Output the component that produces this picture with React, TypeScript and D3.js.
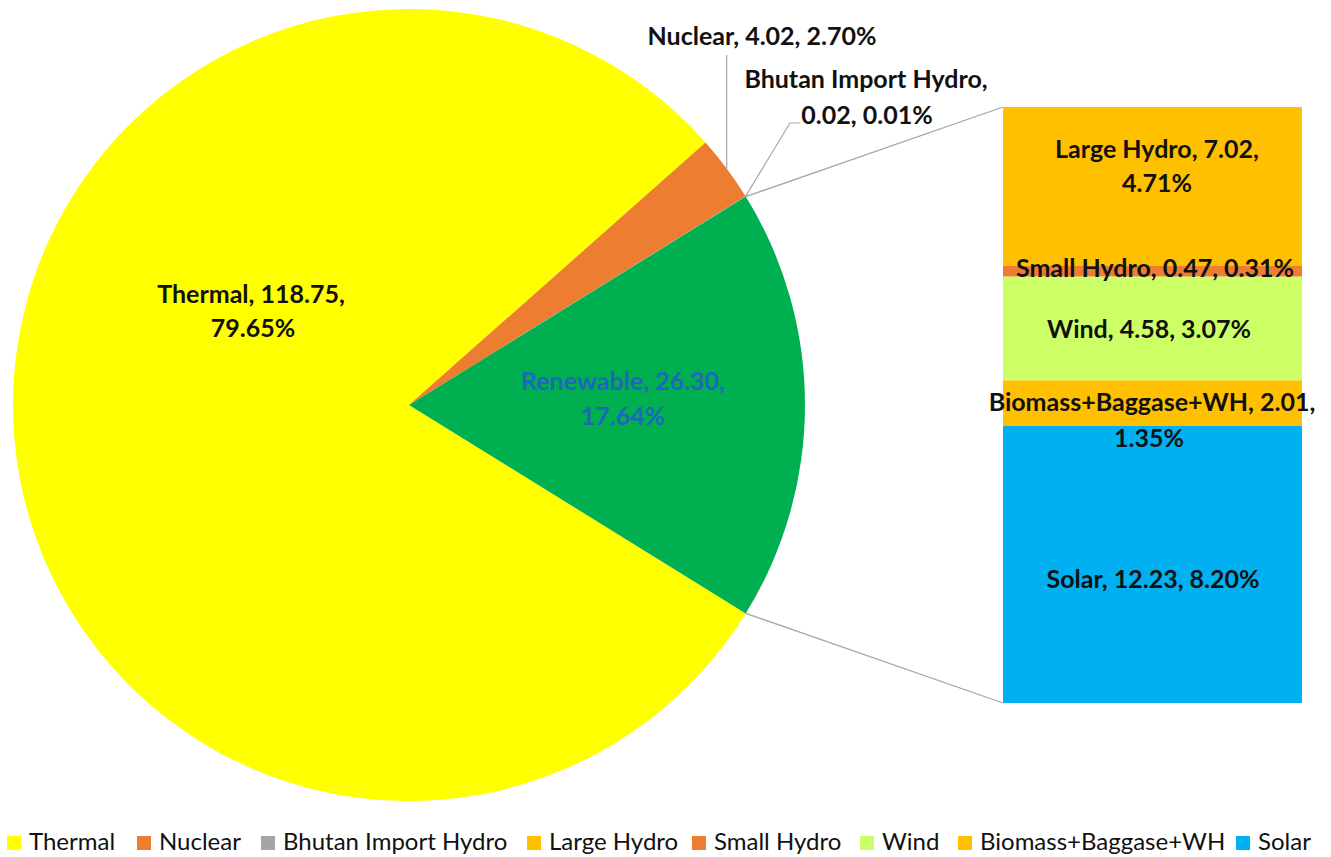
import * as d3 from 'd3';
import React from 'react';

// main pie values (BU)
const pieNames = ['Thermal', 'Nuclear', 'Bhutan Import Hydro', 'Renewable'];
const pieValues = [118.75, 4.02, 0.02, 26.30];
const piePercents = ['79.65%', '2.70%', '0.01%', '17.64%'];

// breakdown of renewable, top to bottom in the bar
const barNames = ['Large Hydro', 'Small Hydro', 'Wind', 'Biomass+Baggase+WH', 'Solar'];
const barValues = [7.02, 0.47, 4.58, 2.01, 12.23];
const barPercents = ['4.71%', '0.31%', '3.07%', '1.35%', '8.20%'];

const legendNames = ['Thermal', 'Nuclear', 'Bhutan Import Hydro', 'Large Hydro', 'Small Hydro', 'Wind', 'Biomass+Baggase+WH', 'Solar'];

const colors: Record<string, string> = {
    'Thermal': '#FFFF00',
    'Nuclear': '#ED7D31',
    'Bhutan Import Hydro': '#A5A5A5',
    'Renewable': '#00B050',
    'Large Hydro': '#FFC000',
    'Small Hydro': '#ED7D31',
    'Wind': '#CCFF66',
    'Biomass+Baggase+WH': '#FFC000',
    'Solar': '#00B0F0',
};

const W = 1331;
const H = 857;
const FONT = 'Lato, "Noto Sans", sans-serif';
const cx = 409;
const cy = 405;
const R = 396;
const bar = { x0: 1003, x1: 1302, y0: 107, y1: 703 };

const App = () => {
    const total = d3.sum(pieValues);
    const renewShare = pieValues[3] / total;
    // renewable wedge centred on the right horizontal
    const start = Math.PI / 2 + renewShare * Math.PI;
    const arcs = d3.pie<number>().sort(null).startAngle(start).endAngle(start + 2 * Math.PI)(pieValues);
    const arc = d3.arc<d3.PieArcDatum<number>>().innerRadius(0).outerRadius(R);

    const polar = (a: number, r: number) => [cx + r * Math.sin(a), cy - r * Math.cos(a)];
    const renew = arcs[3];
    const pTop = polar(renew.startAngle, R);
    const pBot = polar(renew.endAngle, R);

    const y = d3.scaleLinear().domain([0, d3.sum(barValues)]).range([bar.y0, bar.y1]);
    let acc = 0;
    const segs = barValues.map((v, i) => {
        const s = { name: barNames[i], v, y0: y(acc), y1: y(acc + v) };
        acc += v;
        return s;
    });

    const nucTop = polar(arcs[1].startAngle + 0.5 * (arcs[1].endAngle - arcs[1].startAngle), R);
    const bhutanPt = polar(arcs[2].startAngle, R);

    const legendX = [7, 137, 261, 527, 692, 860, 958, 1236];

    const lbl = { fontFamily: FONT, fontWeight: 700, fontSize: 25, textAnchor: 'middle' as const, fill: '#111' };

    return (
        <div style={{ position: 'absolute', left: 0, top: 0 }}>
            <svg width={W} height={H} style={{ display: 'block', background: '#fff' }}>
                <g transform={`translate(${cx},${cy})`}>
                    {arcs.map((a, i) => (
                        <path key={i} d={arc(a) || ''} fill={colors[pieNames[i]]} />
                    ))}
                </g>
                {/* connector lines to the bar */}
                <line x1={pTop[0]} y1={pTop[1]} x2={bar.x0} y2={bar.y0} stroke="#A6A6A6" strokeWidth={1.3} />
                <line x1={pBot[0]} y1={pBot[1]} x2={bar.x0} y2={bar.y1} stroke="#A6A6A6" strokeWidth={1.3} />
                {segs.map(s => (
                    <rect key={s.name} x={bar.x0} y={s.y0} width={bar.x1 - bar.x0} height={s.y1 - s.y0} fill={colors[s.name]} />
                ))}

                {/* leader lines */}
                <line x1={nucTop[0]} y1={nucTop[1]} x2={nucTop[0]} y2={55} stroke="#A6A6A6" strokeWidth={1.2} />
                <polyline points={`${bhutanPt[0]},${bhutanPt[1]} 790,123 800,123`} fill="none" stroke="#A6A6A6" strokeWidth={1.2} />

                {/* pie labels */}
                <text {...lbl} x={251} y={303}>{`${pieNames[0]}, ${pieValues[0].toFixed(2)},`}</text>
                <text {...lbl} x={253} y={337}>{piePercents[0]}</text>
                <text {...lbl} x={762} y={45}>{`${pieNames[1]}, ${pieValues[1].toFixed(2)}, ${piePercents[1]}`}</text>
                <text {...lbl} x={866} y={88}>{`${pieNames[2]},`}</text>
                <text {...lbl} x={867} y={124}>{`${pieValues[2].toFixed(2)}, ${piePercents[2]}`}</text>
                <text {...lbl} fill="#1F66BF" x={623} y={390}>{`${pieNames[3]}, ${pieValues[3].toFixed(2)},`}</text>
                <text {...lbl} fill="#1F66BF" x={623} y={425}>{piePercents[3]}</text>

                {/* bar labels */}
                <text {...lbl} x={1157} y={158}>{`${barNames[0]}, ${barValues[0].toFixed(2)},`}</text>
                <text {...lbl} x={1157} y={192}>{barPercents[0]}</text>
                <text {...lbl} x={1155} y={277}>{`${barNames[1]}, ${barValues[1].toFixed(2)}, ${barPercents[1]}`}</text>
                <text {...lbl} x={1149} y={338}>{`${barNames[2]}, ${barValues[2].toFixed(2)}, ${barPercents[2]}`}</text>
                <text {...lbl} x={1152} y={411}>{`${barNames[3]}, ${barValues[3].toFixed(2)},`}</text>
                <text {...lbl} x={1149} y={447}>{barPercents[3]}</text>
                <text {...lbl} x={1153} y={588}>{`${barNames[4]}, ${barValues[4].toFixed(2)}, ${barPercents[4]}`}</text>

                {/* legend */}
                {legendNames.map((n, i) => (
                    <g key={n} transform={`translate(${legendX[i]},833)`}>
                        <rect x={0} y={3} width={14} height={14} fill={colors[n]} />
                        <text x={22} y={17} fontFamily={FONT} fontSize={24} fill="#111">{n}</text>
                    </g>
                ))}
            </svg>
        </div>
    );
};

export default App;
